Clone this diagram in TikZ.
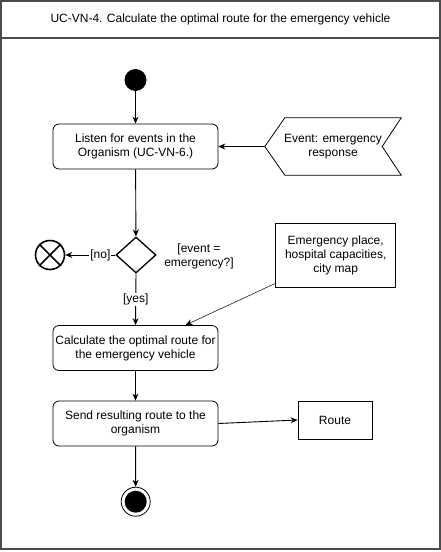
\documentclass[tikz,border=0pt]{standalone}
\usepackage{fontspec}
\setmainfont{Liberation Sans}
\usetikzlibrary{arrows.meta,positioning,shapes.geometric,calc}

\begin{document}
\begin{tikzpicture}[
    x=1pt, y=-1pt,
    >={Stealth[length=7pt,width=6pt]},
    font=\fontsize{12}{14}\selectfont,
    % 活動與物件的樣式
    action/.style={draw, line width=0.8pt, rounded corners=6pt, minimum width=165pt, minimum height=45pt, align=center, inner sep=1pt},
    objbox/.style={draw, line width=0.8pt, align=center, inner sep=2pt},
    decision/.style={draw, diamond, line width=1.3pt, minimum width=40pt, minimum height=36pt, inner sep=0pt},
    flow/.style={->, line width=0.9pt},
    guard/.style={fill=white, inner sep=1pt},
    frame/.style={draw=black!70, line width=1.5pt}
]
\useasboundingbox (0,0) rectangle (441,552);

% --- 1. 外框與標題 ---
\draw[frame] (1,1) rectangle (440,549);
\draw[frame] (1,38) -- (440,38);
\node (title) at (220.5,19.5) {UC-VN-4. Calculate the optimal route for the emergency vehicle};

% --- 2. 起點與第一個活動 ---
\node[circle, fill, inner sep=0pt, minimum size=22pt] (start) at (135.5,80) {};
\node[action] (listen) at (135.5,146.5) {Listen for events in the\\Organism (UC-VN-6.)};

% 接收事件 (signal)
\node[minimum width=136pt, minimum height=57pt, align=center, inner sep=0pt] (event) at (333,146.5) {Event: emergency\\response};
\draw[line width=0.8pt] (event.west) -- ($(event.north west)+(20,0)$) -- (event.north east)
    -- ($(event.east)+(-19,0)$) -- (event.south east) -- ($(event.south west)+(20,0)$) -- cycle;

% --- 3. 判斷 ---
\node[decision] (check) at (136,255) {};
\node[align=center] (guardtxt) at (199,256) {[event =\\emergency?]};
\node[circle, draw, line width=1.6pt, minimum size=29pt, inner sep=0pt] (flowend) at (50,255) {};
\draw[line width=1.6pt] (flowend.north west) -- (flowend.south east);
\draw[line width=1.6pt] (flowend.north east) -- (flowend.south west);

% 輸入資料
\node[objbox, minimum width=120pt, minimum height=64pt] (data) at (335.7,255) {Emergency place,\\hospital capacities,\\city map};

% --- 4. 計算與送出 ---
\node[action] (calc) at (135.5,348) {Calculate the optimal route for\\the emergency vehicle};
\node[action] (send) at (135.5,423.5) {Send resulting route to the\\organism};
\node[objbox, minimum width=74pt, minimum height=38pt] (route) at (335,420) {Route};

% 終點
\node[circle, draw, line width=0.8pt, minimum size=29pt, inner sep=0pt] (final) at (135.7,501.7) {};
\fill (final.center) circle[radius=11pt];

% --- 5. 連線 ---
\draw[flow] (start) -- (listen);
\draw[flow] (event.west) -- (listen.east);
\draw[flow] (listen) -- (check);
\draw[flow] (check.west) -- node[guard, pos=0.3] {[no]} (flowend.east);
\draw[flow] (check.south) -- node[guard] {[yes]} (calc.north);
\draw[->, line width=0.5pt] ($(data.south west)+(0,-4)$) -- ($(calc.north)+(50,0)$);
\draw[flow] (calc) -- (send);
\draw[flow] (send.east) -- (route.west);
\draw[flow] (send) -- (final);

\end{tikzpicture}
\end{document}
